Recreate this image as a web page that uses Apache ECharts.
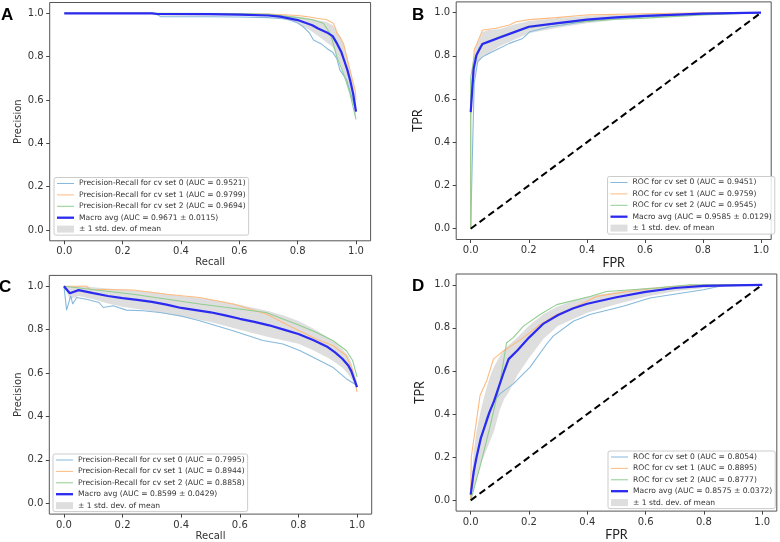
<!DOCTYPE html>
<html><head><meta charset="utf-8">
<script src="https://cdn.jsdelivr.net/npm/echarts@6/dist/echarts.min.js"></script>
<style>html,body{margin:0;padding:0;background:#fff}#c{width:780px;height:542px}</style>
</head><body><div id="c"></div>
<script>
// ---------- tick labels ----------
const TICKS = [0, 0.2, 0.4, 0.6, 0.8, 1.0];

// ---------- Panel A : Precision-Recall ----------
const A_names = ["Precision-Recall for cv set 0 (AUC = 0.9521)", "Precision-Recall for cv set 1 (AUC = 0.9799)", "Precision-Recall for cv set 2 (AUC = 0.9694)", "Macro avg (AUC = 0.9671 ± 0.0115)"];
const A_s0_x = [0, 0.31, 0.33, 0.5, 0.6, 0.7, 0.75, 0.774, 0.8, 0.819, 0.84, 0.854, 0.88, 0.9, 0.92, 0.934, 0.945, 0.968, 0.985, 1.0];
const A_s0_y = [1.0, 1.0, 0.985, 0.984, 0.983, 0.98, 0.975, 0.969, 0.955, 0.938, 0.91, 0.877, 0.86, 0.838, 0.82, 0.792, 0.738, 0.692, 0.615, 0.55];
const A_s1_x = [0, 0.3, 0.32, 0.7, 0.8, 0.831, 0.865, 0.9, 0.922, 0.93, 0.934, 0.945, 0.957, 0.968, 0.985, 0.997, 1.0];
const A_s1_y = [1.0, 1.0, 0.998, 0.997, 0.99, 0.985, 0.977, 0.97, 0.954, 0.93, 0.908, 0.89, 0.861, 0.8, 0.708, 0.646, 0.6];
const A_s2_x = [0, 0.3, 0.6, 0.7, 0.8, 0.85, 0.888, 0.911, 0.92, 0.934, 0.957, 0.979, 1.0];
const A_s2_y = [1.0, 1.0, 0.999, 0.995, 0.98, 0.97, 0.954, 0.908, 0.87, 0.8, 0.723, 0.631, 0.51];
const A_mean_x = [0, 0.3, 0.32, 0.5, 0.6, 0.7, 0.74, 0.8, 0.85, 0.87, 0.9, 0.92, 0.935, 0.95, 0.96, 0.97, 0.98, 0.99, 1.0];
const A_mean_y = [1.0, 1.0, 0.997, 0.996, 0.994, 0.99, 0.985, 0.969, 0.945, 0.93, 0.912, 0.895, 0.86, 0.82, 0.78, 0.74, 0.69, 0.63, 0.546];
const A_up = [1.0, 1.0, 1.0, 0.999, 0.998, 0.996, 0.993, 0.985, 0.975, 0.968, 0.96, 0.945, 0.92, 0.885, 0.85, 0.8, 0.74, 0.68, 0.58];
const A_lo = [1.0, 1.0, 0.99, 0.99, 0.99, 0.985, 0.978, 0.955, 0.915, 0.895, 0.865, 0.845, 0.8, 0.755, 0.71, 0.68, 0.64, 0.58, 0.51];

// ---------- Panel B : ROC ----------
const B_names = ["ROC for cv set 0 (AUC = 0.9451)", "ROC for cv set 1 (AUC = 0.9759)", "ROC for cv set 2 (AUC = 0.9545)", "Macro avg (AUC = 0.9585 ± 0.0129)"];
const B_s0_x = [0, 0.005, 0.005, 0.012, 0.024, 0.041, 0.087, 0.133, 0.179, 0.204, 0.273, 0.41, 0.526, 0.755, 1.0];
const B_s0_y = [0, 0, 0.3, 0.673, 0.773, 0.796, 0.827, 0.858, 0.881, 0.912, 0.935, 0.962, 0.976, 0.992, 1.0];
const B_s1_x = [0, 0, 0.012, 0.024, 0.041, 0.087, 0.133, 0.156, 0.202, 0.294, 0.386, 0.41, 0.6, 0.8, 1.0];
const B_s1_y = [0, 0.6, 0.827, 0.866, 0.92, 0.928, 0.943, 0.958, 0.968, 0.977, 0.988, 0.99, 0.995, 1.0, 1.0];
const B_s2_x = [0, 0, 0.01, 0.03, 0.05, 0.1, 0.2, 0.3, 0.4, 0.5, 0.6, 0.8, 1.0];
const B_s2_y = [0, 0.7, 0.78, 0.84, 0.86, 0.89, 0.93, 0.95, 0.96, 0.97, 0.975, 0.99, 1.0];
const B_mean_x = [0, 0.01, 0.02, 0.04, 0.06, 0.1, 0.15, 0.2, 0.3, 0.4, 0.5, 0.6, 0.8, 1.0];
const B_mean_y = [0.54, 0.74, 0.804, 0.855, 0.865, 0.885, 0.91, 0.935, 0.952, 0.968, 0.978, 0.985, 0.996, 1.0];
const B_up = [0.6, 0.8, 0.85, 0.91, 0.92, 0.925, 0.945, 0.962, 0.975, 0.985, 0.99, 0.994, 0.999, 1.0];
const B_lo = [0.48, 0.68, 0.76, 0.8, 0.81, 0.845, 0.875, 0.905, 0.93, 0.951, 0.966, 0.976, 0.99, 1.0];

// ---------- Panel C : Precision-Recall ----------
const C_names = ["Precision-Recall for cv set 0 (AUC = 0.7995)", "Precision-Recall for cv set 1 (AUC = 0.8944)", "Precision-Recall for cv set 2 (AUC = 0.8858)", "Macro avg (AUC = 0.8599 ± 0.0429)"];
const C_s0_x = [0, 0.009, 0.023, 0.03, 0.043, 0.077, 0.12, 0.134, 0.168, 0.213, 0.27, 0.327, 0.395, 0.463, 0.577, 0.679, 0.747, 0.804, 0.86, 0.917, 0.963, 1.0];
const C_s0_y = [1.0, 0.89, 0.956, 0.918, 0.948, 0.94, 0.925, 0.902, 0.91, 0.89, 0.887, 0.879, 0.864, 0.841, 0.795, 0.75, 0.734, 0.704, 0.666, 0.627, 0.574, 0.543];
const C_s1_x = [0, 0.077, 0.089, 0.236, 0.35, 0.463, 0.577, 0.69, 0.78, 0.86, 0.917, 0.963, 0.985, 1.0];
const C_s1_y = [1.0, 1.0, 0.986, 0.983, 0.963, 0.948, 0.918, 0.872, 0.81, 0.757, 0.727, 0.681, 0.612, 0.513];
const C_s2_x = [0, 0.236, 0.463, 0.69, 0.747, 0.792, 0.86, 0.917, 0.963, 0.985, 1.0];
const C_s2_y = [1.0, 0.963, 0.918, 0.879, 0.849, 0.826, 0.788, 0.75, 0.704, 0.658, 0.582];
const C_mean_x = [0, 0.02, 0.05, 0.1, 0.15, 0.2, 0.25, 0.3, 0.35, 0.4, 0.45, 0.5, 0.55, 0.6, 0.65, 0.7, 0.75, 0.8, 0.85, 0.9, 0.925, 0.95, 0.97, 0.98, 1.0];
const C_mean_y = [1.0, 0.968, 0.982, 0.968, 0.955, 0.945, 0.937, 0.928, 0.915, 0.9, 0.89, 0.88, 0.866, 0.85, 0.836, 0.82, 0.8, 0.78, 0.752, 0.72, 0.695, 0.666, 0.635, 0.61, 0.535];
const C_up = [1.0, 1.0, 1.0, 0.995, 0.99, 0.985, 0.98, 0.975, 0.965, 0.955, 0.948, 0.94, 0.928, 0.915, 0.9, 0.885, 0.865, 0.84, 0.805, 0.765, 0.74, 0.71, 0.68, 0.65, 0.56];
const C_lo = [1.0, 0.94, 0.955, 0.94, 0.92, 0.905, 0.895, 0.885, 0.872, 0.86, 0.848, 0.835, 0.818, 0.8, 0.782, 0.765, 0.75, 0.735, 0.705, 0.67, 0.65, 0.625, 0.595, 0.575, 0.525];

// ---------- Panel D : ROC ----------
const D_names = ["ROC for cv set 0 (AUC = 0.8054)", "ROC for cv set 1 (AUC = 0.8895)", "ROC for cv set 2 (AUC = 0.8777)", "Macro avg (AUC = 0.8575 ± 0.0372)"];
const D_s0_x = [0, 0.02, 0.055, 0.078, 0.1, 0.146, 0.203, 0.26, 0.283, 0.352, 0.409, 0.523, 0.615, 0.798, 0.866, 1.0];
const D_s0_y = [0.018, 0.2, 0.386, 0.455, 0.494, 0.54, 0.617, 0.724, 0.762, 0.831, 0.862, 0.9, 0.939, 0.977, 0.997, 1.0];
const D_s1_x = [0, 0.002, 0.02, 0.032, 0.055, 0.078, 0.112, 0.181, 0.238, 0.295, 0.352, 0.432, 0.523, 0.638, 0.752, 1.0];
const D_s1_y = [0, 0.2, 0.37, 0.486, 0.555, 0.655, 0.693, 0.755, 0.816, 0.862, 0.893, 0.946, 0.966, 0.985, 0.997, 1.0];
const D_s2_x = [0, 0.032, 0.066, 0.1, 0.123, 0.146, 0.181, 0.238, 0.295, 0.409, 0.466, 0.638, 0.752, 1.0];
const D_s2_y = [0, 0.156, 0.34, 0.54, 0.73, 0.755, 0.808, 0.862, 0.908, 0.946, 0.969, 0.985, 1.0, 1.0];
const D_mean_x = [0, 0.01, 0.02, 0.035, 0.05, 0.065, 0.08, 0.1, 0.115, 0.13, 0.16, 0.2, 0.25, 0.3, 0.35, 0.4, 0.5, 0.6, 0.7, 0.8, 1.0];
const D_mean_y = [0.026, 0.13, 0.2, 0.29, 0.35, 0.41, 0.46, 0.54, 0.6, 0.655, 0.695, 0.755, 0.82, 0.86, 0.89, 0.912, 0.942, 0.967, 0.985, 0.995, 1.0];
const D_up = [0.03, 0.22, 0.32, 0.42, 0.5, 0.57, 0.62, 0.67, 0.7, 0.72, 0.755, 0.81, 0.865, 0.9, 0.925, 0.945, 0.968, 0.985, 0.997, 1.0, 1.0];
const D_lo = [0.02, 0.05, 0.1, 0.17, 0.22, 0.27, 0.32, 0.42, 0.47, 0.5, 0.58, 0.66, 0.75, 0.81, 0.84, 0.87, 0.91, 0.945, 0.97, 0.985, 1.0];

const CHANCE_X = [0, 1];
const CHANCE_Y = [0, 1];
const BAND_NAME = "± 1 std. dev. of mean";

// ---------- styles ----------
const COLORS = ['#86b9db', '#fdbb80', '#90cd90', '#2a2af0'];
const BAND_COLOR = '#dedede';
const FONT = 'DejaVu Sans';
const THIN_ICON = 'path://M0,0H34V2H0Z';
const THICK_ICON = 'path://M0,0H34V4.6H0Z';

const zip = (xs, ys) => xs.map((x, i) => [x, ys[i]]);

const panels = [
  {key: 'A', names: A_names, sets: [[A_s0_x, A_s0_y], [A_s1_x, A_s1_y], [A_s2_x, A_s2_y]], mean: [A_mean_x, A_mean_y], up: A_up, lo: A_lo, roc: false,
   grid: {left: 49.7, top: 2.5, width: 320.9, height: 238.3}, xmax: 1.05,
   xName: 'Recall', yName: 'Precision', xGap: 17, yGap: 22, legend: {left: 54, top: 177.5}},
  {key: 'B', names: B_names, sets: [[B_s0_x, B_s0_y], [B_s1_x, B_s1_y], [B_s2_x, B_s2_y]], mean: [B_mean_x, B_mean_y], up: B_up, lo: B_lo, roc: true,
   grid: {left: 456.2, top: 1.9, width: 315, height: 237.6}, xmax: 1.035,
   xName: 'FPR', yName: 'TPR', xGap: 6, yGap: 32, legend: {left: 607.5, top: 176.5}},
  {key: 'C', names: C_names, sets: [[C_s0_x, C_s0_y], [C_s1_x, C_s1_y], [C_s2_x, C_s2_y]], mean: [C_mean_x, C_mean_y], up: C_up, lo: C_lo, roc: false,
   grid: {left: 49.3, top: 275.4, width: 322.4, height: 240.9}, xmax: 1.05,
   xName: 'Recall', yName: 'Precision', xGap: 15, yGap: 23, legend: {left: 53, top: 454}},
  {key: 'D', names: D_names, sets: [[D_s0_x, D_s0_y], [D_s1_x, D_s1_y], [D_s2_x, D_s2_y]], mean: [D_mean_x, D_mean_y], up: D_up, lo: D_lo, roc: true,
   grid: {left: 456.1, top: 274, width: 320.7, height: 238.6}, xmax: 1.05,
   xName: 'FPR', yName: 'TPR', xGap: 7, yGap: 30, legend: {left: 608, top: 451}}
];

const grids = [], xAxes = [], yAxes = [], series = [], legends = [], graphics = [];

panels.forEach((p, gi) => {
  grids.push(Object.assign({show: true, borderColor: '#555', borderWidth: 1, backgroundColor: '#fff', containLabel: false}, p.grid));
  const nameStyleRoc = {fontFamily: 'Lato', fontSize: 12.5, color: '#222'};
  const nameStylePR = {fontFamily: FONT, fontSize: 10, color: '#333'};
  const common = {
    type: 'value', gridIndex: gi, min: -0.05, splitLine: {show: false},
    axisLine: {show: false, onZero: false},
    axisTick: {show: true, length: 3.5, inside: false, customValues: TICKS, lineStyle: {color: '#444', width: 1}},
    axisLabel: {customValues: TICKS, formatter: v => v.toFixed(1), fontFamily: FONT, fontSize: 10, color: '#333', margin: 6},
    nameLocation: 'middle'
  };
  xAxes.push(Object.assign({}, common, {max: p.xmax, name: p.xName, nameGap: p.xGap, nameTextStyle: p.roc ? nameStyleRoc : nameStylePR}));
  yAxes.push(Object.assign({}, common, {max: 1.05, name: p.yName, nameGap: p.yGap, nameTextStyle: p.roc ? nameStyleRoc : nameStylePR}));

  // std band
  const up = p.up, lo = p.lo, bx = p.mean[0];
  series.push({
    type: 'custom', name: BAND_NAME, xAxisIndex: gi, yAxisIndex: gi, z: 1,
    itemStyle: {color: BAND_COLOR},
    data: bx.map((x, i) => [x, lo[i], up[i]]),
    encode: {x: 0, y: [1, 2]},
    renderItem: (params, api) => {
      if (params.dataIndex !== 0) return null;
      const pts = [];
      for (let i = 0; i < bx.length; i++) pts.push(api.coord([bx[i], up[i]]));
      for (let i = bx.length - 1; i >= 0; i--) pts.push(api.coord([bx[i], lo[i]]));
      return {type: 'polygon', shape: {points: pts}, style: {fill: BAND_COLOR, stroke: null}};
    }
  });
  p.sets.forEach((s, si) => {
    series.push({
      type: 'line', name: p.names[si], xAxisIndex: gi, yAxisIndex: gi, z: 3,
      data: zip(s[0], s[1]), symbol: 'none', showSymbol: false,
      lineStyle: {color: COLORS[si], width: 1.1}, itemStyle: {color: COLORS[si]}
    });
  });
  series.push({
    type: 'line', name: p.names[3], xAxisIndex: gi, yAxisIndex: gi, z: 5,
    data: zip(p.mean[0], p.mean[1]), symbol: 'none', showSymbol: false,
    lineStyle: {color: COLORS[3], width: 2.2}, itemStyle: {color: COLORS[3]}
  });
  if (p.roc) {
    series.push({
      type: 'line', name: 'chance' + p.key, xAxisIndex: gi, yAxisIndex: gi, z: 4,
      data: zip(CHANCE_X, CHANCE_Y), symbol: 'none',
      lineStyle: {color: '#000', width: 2, type: [7, 4]}
    });
  }
  legends.push({
    left: p.legend.left, top: p.legend.top, orient: 'vertical',
    itemWidth: 17, itemHeight: 7, itemGap: 3.4,
    padding: [2, 3, 2, 3], borderColor: '#ccc', borderWidth: 1, borderRadius: 2,
    backgroundColor: 'rgba(255,255,255,0.85)', selectedMode: false,
    textStyle: {fontFamily: FONT, fontSize: 7.6, color: '#333'},
    data: [
      {name: p.names[0], icon: THIN_ICON, itemStyle: {color: COLORS[0]}},
      {name: p.names[1], icon: THIN_ICON, itemStyle: {color: COLORS[1]}},
      {name: p.names[2], icon: THIN_ICON, itemStyle: {color: COLORS[2]}},
      {name: p.names[3], icon: THICK_ICON, itemStyle: {color: COLORS[3]}},
      {name: BAND_NAME, icon: 'rect', itemStyle: {color: BAND_COLOR}}
    ]
  });
});

const letters = [{t: 'A', x: 1, y: 16}, {t: 'B', x: 412, y: 16}, {t: 'C', x: -1, y: 288}, {t: 'D', x: 412, y: 287}];
letters.forEach(l => graphics.push({
  type: 'text', left: l.x, top: l.y - 9, z: 10,
  style: {text: l.t, font: 'bold 17px "Liberation Sans"', fill: '#000'}
}));

const chart = echarts.init(document.getElementById('c'), null, {renderer: 'canvas'});
chart.setOption({
  animation: false, backgroundColor: '#fff',
  grid: grids, xAxis: xAxes, yAxis: yAxes, series: series, legend: legends, graphic: graphics
});
</script></body></html>
